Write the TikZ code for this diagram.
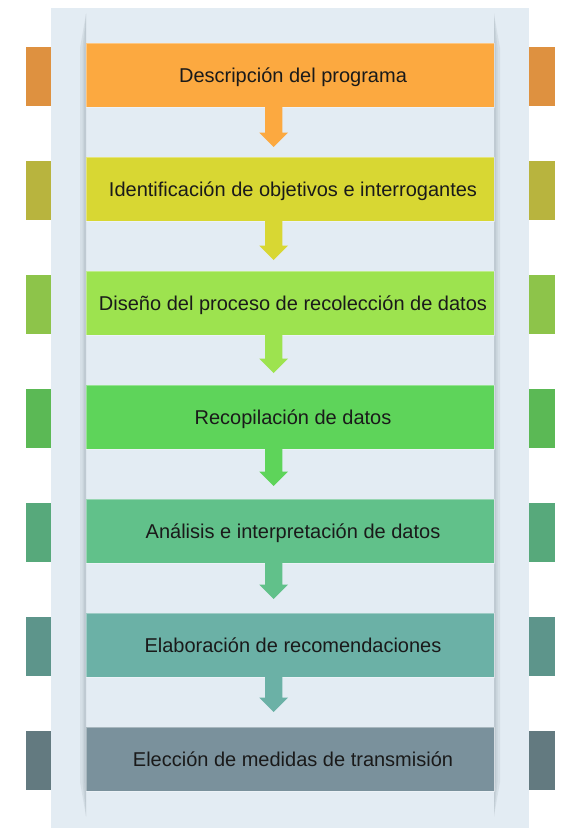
\documentclass[tikz,border=0pt]{standalone}
\usepackage{fontspec}
\setmainfont{Liberation Sans}
\usetikzlibrary{calc}
\definecolor{panel}{HTML}{E3ECF3}
\definecolor{shd}{HTML}{7D8A96}
\definecolor{txt}{HTML}{1A1A1A}
\definecolor{bA}{HTML}{FCA940}\definecolor{tA}{HTML}{DE9140}
\definecolor{bB}{HTML}{D8D733}\definecolor{tB}{HTML}{B8B43E}
\definecolor{bC}{HTML}{9DE34F}\definecolor{tC}{HTML}{8DC44A}
\definecolor{bD}{HTML}{5ED45A}\definecolor{tD}{HTML}{5BB955}
\definecolor{bE}{HTML}{61C18A}\definecolor{tE}{HTML}{57A97B}
\definecolor{bF}{HTML}{6BB1A6}\definecolor{tF}{HTML}{5D958B}
\definecolor{bG}{HTML}{7A919C}\definecolor{tG}{HTML}{637A80}
\tikzset{
  stepbox/.style={rectangle, inner sep=0pt, outer sep=0pt, minimum width=408pt, minimum height=64pt,
    draw=white, draw opacity=0.35, line width=0.6pt, text=txt,
    text height=14.4pt, text depth=0pt,
    font=\fontsize{20}{24}\selectfont, execute at begin node={\hspace*{6pt}}},
  tab/.style={rectangle, inner sep=0pt, outer sep=0pt, minimum width=26pt, minimum height=59pt},
  shadowstrip/.style={fill=shd, fill opacity=0.13, draw=none},
}
\begin{document}
\begin{tikzpicture}[x=1pt,y=-1pt]
\useasboundingbox (0,0) rectangle (582,837);
% side tabs
\foreach \c [count=\i] in {tA,tB,tC,tD,tE,tF,tG}{
  \node[tab, fill=\c] (l\i) at (39, 76.5+114*\i-114) {};
  \node[tab, fill=\c] (r\i) at (542, 76.5+114*\i-114) {};
}
% panel
\fill[panel] (51,8) rectangle (529,828);
% side shadows
\foreach \w in {6,3.5,1.8}{
  \fill[shadowstrip] (86,14) -- (86-\w,48) -- (86-\w,782) -- (86,816) -- cycle;
  \fill[shadowstrip] (494,14) -- (494+\w,48) -- (494+\w,782) -- (494,816) -- cycle;
}
% boxes
\node[stepbox, fill=bA] (box1) at (290,75)  {Descripción del programa};
\node[stepbox, fill=bB] (box2) at (290,189) {Identificación de objetivos e interrogantes};
\node[stepbox, fill=bC] (box3) at (290,303) {Diseño del proceso de recolección de datos};
\node[stepbox, fill=bD] (box4) at (290,417) {Recopilación de datos};
\node[stepbox, fill=bE] (box5) at (290,531) {Análisis e interpretación de datos};
\node[stepbox, fill=bF] (box6) at (290,645) {Elaboración de recomendaciones};
\node[stepbox, fill=bG] (box7) at (290,759) {Elección de medidas de transmisión};
% arrows
\foreach \a/\b/\c in {1/2/bA,2/3/bB,3/4/bC,4/5/bD,5/6/bE,6/7/bF}{
  \pgfmathsetmacro{\tip}{41-\a}
  \pgfmathsetmacro{\hb}{\tip-14.4}
  \fill[\c] ($(box\a.south)+(-25,0)$) -- ($(box\a.south)+(-7.7,0)$)
    -- ($(box\a.south)+(-7.7,\hb)$) -- ($(box\a.south)+(-1.9,\hb)$)
    -- ($(box\a.south)+(-16.3,\tip)$)
    -- ($(box\a.south)+(-30.7,\hb)$) -- ($(box\a.south)+(-25,\hb)$) -- cycle;
}
\end{tikzpicture}
\end{document}
